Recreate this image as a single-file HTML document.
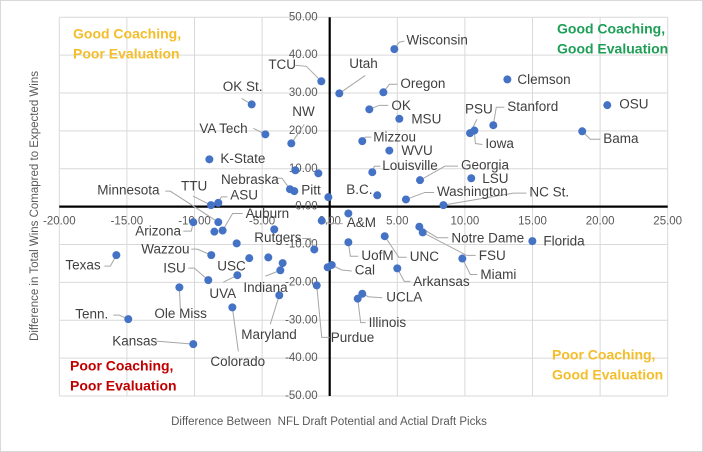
<!DOCTYPE html>
<html><head><meta charset="utf-8"><style>
body{margin:0;background:#fff;}
svg{display:block;font-family:"Liberation Sans",sans-serif;}
</style></head><body>
<svg id="chart" width="703" height="452" viewBox="0 0 703 452">
<rect x="0.5" y="0.5" width="702" height="451" fill="#fff" stroke="#d9d9d9"/>
<g id="grid"></g>
<g id="axes"></g>
<g id="ticks" font-size="11.5" fill="#595959"></g>
<g id="leaders"></g>
<g id="points"></g>
<g id="labels" font-size="13.5" fill="#404040"></g>
<text x="35" y="206" transform="rotate(-90 35 206)" text-anchor="middle" font-size="11.5" fill="#595959" dominant-baseline="middle">Difference in Total Wins Comapred to Expected Wins</text>
<text x="329" y="422" text-anchor="middle" font-size="11.5" fill="#595959" dominant-baseline="middle" xml:space="preserve">Difference Between  NFL Draft Potential and Actial Draft Picks</text>
<g font-size="14" font-weight="bold" dominant-baseline="middle">
<text x="73" y="35" fill="#F4BE2A">Good Coaching,</text>
<text x="73" y="55" fill="#F4BE2A">Poor Evaluation</text>
<text x="557" y="30" fill="#1E9E57">Good Coaching,</text>
<text x="557" y="50" fill="#1E9E57">Good Evaluation</text>
<text x="70" y="367" fill="#C00000">Poor Coaching,</text>
<text x="70" y="387" fill="#C00000">Poor Evaluation</text>
<text x="552" y="356" fill="#F4BE2A">Poor Coaching,</text>
<text x="552" y="376" fill="#F4BE2A">Good Evaluation</text>
</g>
</svg>
<script>
const xTicks=[-20,-15,-10,-5,0,5,10,15,20,25];
const yTicks=[-50,-40,-30,-20,-10,0,10,20,30,40,50];
const xTickLabels=["-20.00","-15.00","-10.00","-5.00","0.00","5.00","10.00","15.00","20.00","25.00"];
const yTickLabels=["-50.00","-40.00","-30.00","-20.00","-10.00","0.00","10.00","20.00","30.00","40.00","50.00"];
const names=["TCU","Utah","OK St.","VA Tech","NW","K-State","","","Nebraska","Pitt","","TTU","ASU","Minnesota","Auburn","Arizona","","","","Rutgers","Wazzou","Texas","ISU","USC","UVA","","","Indiana","Ole Miss","Purdue","Maryland","Colorado","Tenn.","Kansas","","Cal","A&M","","UofM","UNC","Notre Dame","FSU","Miami","Florida","Arkansas","UCLA","Illinois","Wisconsin","Oregon","Clemson","OK","MSU","PSU","Iowa","Stanford","OSU","Bama","Mizzou","WVU","Louisville","Georgia","LSU","B.C.","Washington","NC St."];
const xVals=[-0.62,0.71,-5.77,-4.76,-2.84,-8.9,-2.54,-0.84,-2.94,-2.62,-0.1,-8.78,-8.24,-8.24,-7.92,-10.09,-8.53,-4.10,-6.88,-1.14,-8.76,-15.78,-8.98,-5.95,-6.83,-4.54,-3.48,-3.65,-11.12,-0.96,-3.73,-7.2,-14.9,-10.09,-0.15,0.15,-0.59,1.38,1.38,4.07,6.63,6.88,9.81,14.99,5.0,2.41,2.07,4.78,3.97,13.14,2.93,5.15,10.38,10.7,12.1,20.53,18.68,2.41,4.41,3.15,6.68,10.47,3.52,5.64,8.41];
const yVals=[33.1,29.9,27.0,19.1,16.7,12.5,9.6,8.8,4.6,4.1,2.5,0.4,1.0,-4.1,-6.3,-4.1,-6.6,-6.0,-9.7,-11.3,-12.8,-12.8,-19.4,-13.6,-18.1,-13.4,-14.9,-16.8,-21.3,-20.8,-23.4,-26.6,-29.7,-36.3,-16.0,-15.4,-3.7,-1.8,-9.4,-7.8,-5.3,-6.8,-13.7,-9.1,-16.3,-23.0,-24.3,41.6,30.2,33.6,25.7,23.2,19.4,20.1,21.5,26.8,19.9,17.3,14.8,9.1,7.0,7.5,3.0,1.9,0.4];
// label offsets (pixels, relative to dot) and leader polyline offsets
const labelOffsets=[[-53,-16,[[-15,-15],[-26,-16]]],[10,-29,[[26,-18]]],[-29,-17,[[-10,-6]]],[-66,-5,[[-12,-6]]],[1,-31,[[13,-19]]],[11,0,[]],[0,0,[]],[0,0,[]],[-69,-9,[[-8,-11],[-14,-11]]],[7,0,[]],[0,0,[]],[-30,-18,[[-18,-9]]],[12,-7,[[3,-6],[9,-6]]],[-121,-31,[[-48,-31],[-53,-31]]],[23,-16,[[10,-17],[20,-17]]],[-58,10,[[-2,9],[-10,9]]],[0,0,[]],[0,0,[]],[0,0,[]],[-60,-11,[[-4,-11],[-12,-11]]],[-70,-5,[[-14,-6],[-20,-6]]],[-51,11,[[-6,11],[-12,11]]],[-45,-11,[[-14,-12],[-20,-12]]],[-32,9,[]],[-28,19,[[-14,7]]],[0,0,[]],[0,0,[]],[-37,18,[[-15,6]]],[-25,27,[[1,21]]],[14,53,[[5,52],[13,52]]],[-38,40,[[-9,29]]],[-22,55,[[6,44]]],[-53,-4,[[-9,-4],[-15,-4]]],[-81,-2,[[-37,-3]]],[0,0,[]],[23,6,[[10,5],[20,6]]],[25,3,[[8,3],[21,3]]],[0,0,[]],[13,14,[[2,14],[10,14]]],[25,21,[[14,21],[22,21]]],[32,12,[[18,11],[29,11]]],[56,24,[[44,23],[53,23]]],[18,17,[[8,16],[15,16]]],[11,1,[]],[16,14,[[7,13],[13,13]]],[24,4,[[6,3],[20,4]]],[11,25,[[3,24],[8,24]]],[12,-8,[[5,-7],[10,-8]]],[17,-8,[[6,-8],[14,-8]]],[10,1,[]],[22,-3,[[10,-4],[19,-4]]],[12,1,[]],[-5,-23,[[7,-14]]],[11,14,[[1,13],[8,14]]],[14,-18,[[3,-18],[11,-18]]],[12,0,[]],[21,8,[[8,8],[18,8]]],[11,-3,[[3,-4],[9,-4]]],[12,1,[]],[10,-6,[[2,-6],[8,-6]]],[41,-14,[[25,-14],[38,-14]]],[11,1,[]],[-31,-5,[]],[31,-7,[[19,-7],[28,-7]]],[86,-12,[[70,-12],[83,-12]]]];
const NS="http://www.w3.org/2000/svg";
const L=59.3,R=667.7,T=17.3,B=396;
const xMin=-20,xMax=25,yMin=-50,yMax=50;
function sx(v){return L+(v-xMin)/(xMax-xMin)*(R-L);}
function sy(v){return B-(v-yMin)/(yMax-yMin)*(B-T);}
function mk(tag,attrs,parent){const e=document.createElementNS(NS,tag);for(const k in attrs)e.setAttribute(k,attrs[k]);parent.appendChild(e);return e;}
const grid=document.getElementById('grid'),axes=document.getElementById('axes'),ticks=document.getElementById('ticks');
xTicks.forEach((t,i)=>{
 const ln=mk('line',{x1:sx(t),x2:sx(t),y1:T,y2:B,stroke:'#d9d9d9','stroke-width':1},grid);
 
 
 const tx=mk('text',{x:sx(t),y:sy(0)+15,'text-anchor':'middle','dominant-baseline':'middle'},ticks);
 tx.textContent=xTickLabels[i];
 
 
});
yTicks.forEach((t,i)=>{
 const ln=mk('line',{x1:L,x2:R,y1:sy(t),y2:sy(t),stroke:'#d9d9d9','stroke-width':1},grid);
 
 
 const tx=mk('text',{x:sx(0)-12,y:sy(t),'text-anchor':'end','dominant-baseline':'middle'},ticks);
 tx.textContent=yTickLabels[i];
 
 
});
const xa=mk('line',{x1:L,x2:R,y1:sy(0),y2:sy(0),stroke:'#000','stroke-width':2.2},axes);


const ya=mk('line',{x1:sx(0),x2:sx(0),y1:T,y2:B,stroke:'#000','stroke-width':2.2},axes);


const pts=document.getElementById('points'),lbs=document.getElementById('labels'),lds=document.getElementById('leaders');
names.forEach((n,i)=>{
 const cx=sx(xVals[i]),cy=sy(yVals[i]);
 const o=labelOffsets[i];
 if(n&&o[2].length){
  const p=[[cx,cy]].concat(o[2].map(q=>[cx+q[0],cy+q[1]]));
  const pl=mk('polyline',{points:p.map(q=>q.join(',')).join(' '),fill:'none',stroke:'#a6a6a6','stroke-width':1},lds);
  
  
 }
 const c=mk('circle',{cx:cx,cy:cy,r:4,fill:'#4472C4'},pts);
 
 
 if(n){
  const t=mk('text',{x:cx+o[0],y:cy+o[1],'dominant-baseline':'middle'},lbs);
  t.textContent=n;
  
  
 }
});
</script>
</body></html>
